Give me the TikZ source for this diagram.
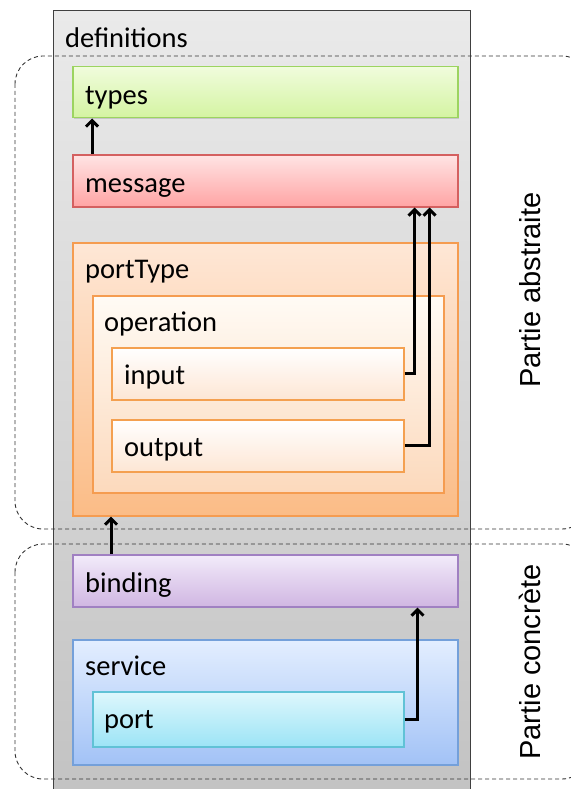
\documentclass[tikz,border=0pt]{standalone}
\usepackage{fontspec}
\setmainfont{Carlito}
\newfontfamily\sidefont{Liberation Sans}
\usetikzlibrary{positioning,arrows.meta,shadows}

\definecolor{defTop}{HTML}{EAEAEA}
\definecolor{defBot}{HTML}{C2C2C2}
\definecolor{typesTop}{HTML}{F0FCDC}
\definecolor{typesBot}{HTML}{D4F4A2}
\definecolor{typesLine}{HTML}{9CD460}
\definecolor{msgTop}{HTML}{FFE4E4}
\definecolor{msgBot}{HTML}{FFA4A4}
\definecolor{msgLine}{HTML}{D46060}
\definecolor{ptTop}{HTML}{FEE7D6}
\definecolor{ptBot}{HTML}{FBBC86}
\definecolor{ptLine}{HTML}{F59C50}
\definecolor{opTop}{HTML}{FFFBF5}
\definecolor{opBot}{HTML}{FCD9BC}
\definecolor{ioTop}{HTML}{FFFFFF}
\definecolor{ioBot}{HTML}{FDE6D4}
\definecolor{ioLine}{HTML}{F4A050}
\definecolor{bindTop}{HTML}{F2EBFA}
\definecolor{bindBot}{HTML}{D0B6E2}
\definecolor{bindLine}{HTML}{A080C2}
\definecolor{servTop}{HTML}{E3EEFF}
\definecolor{servBot}{HTML}{A2C2F6}
\definecolor{servLine}{HTML}{74A0DA}
\definecolor{portTop}{HTML}{DEF7FC}
\definecolor{portBot}{HTML}{9CE4F6}
\definecolor{portLine}{HTML}{60C2D6}

\tikzset{
    part/.style={draw,
        line width=1.5pt,
        anchor=north west,
        inner sep=0pt,
        drop shadow={shadow xshift=1.5pt, shadow yshift=-1.5pt, opacity=0.3}},
    lbl/.style={anchor=base west,
        inner sep=0pt,
        font=\fontsize{28.5}{34}\selectfont},
    side/.style={rotate=90,
        anchor=base,
        inner sep=0pt,
        font=\sidefont\fontsize{29}{34}\selectfont},
    zone/.style={draw=black!80,
        line width=0.9pt,
        dash pattern=on 4pt off 3pt,
        rounded corners=28pt},
    link/.style={line width=3pt,
        -{Straight Barb[length=6pt,width=12pt]}}
}

\begin{document}
\begin{tikzpicture}[x=1pt,y=-1pt]
\useasboundingbox (0,0) rectangle (570,789);

% Outer gray box
\node[draw=black!75,
    line width=1pt,
    anchor=north west,
    inner sep=0pt,
    minimum width=417pt,
    minimum height=800pt,
    top color=defTop,
    bottom color=defBot] (defs) at (53,10){};
\node[lbl] (defslbl) at ([shift={(12,38)}]defs.north west) {definitions};

% Dashed zones
\draw[zone] (15,56) rectangle (590,529);
\draw[zone] (15,544) rectangle (590,779);

% Abstract part
\node[part,
    draw=typesLine,
    minimum width=385pt,
    minimum height=51pt,
    top color=typesTop,
    bottom color=typesBot] (types) at (72,66){};
\node[lbl] (typeslbl) at ([shift={(13,12)}]types.west) {types};

\node[part,
    draw=msgLine,
    minimum width=385pt,
    minimum height=52pt,
    top color=msgTop,
    bottom color=msgBot] (message) at (72,154){};
\node[lbl] (messagelbl) at ([shift={(13,12)}]message.west) {message};

\node[part,
    draw=ptLine,
    minimum width=385pt,
    minimum height=273pt,
    top color=ptTop,
    bottom color=ptBot] (porttype) at (72,242){};
\node[lbl] (porttypelbl) at ([shift={(13,36)}]porttype.north west) {portType};

\node[part,
    draw=ptLine,
    minimum width=351pt,
    minimum height=197pt,
    top color=opTop,
    bottom color=opBot] (operation) at (92,295){};
\node[lbl] (operationlbl) at ([shift={(12,36)}]operation.north west) {operation};

\node[part,
    draw=ioLine,
    minimum width=292pt,
    minimum height=52pt,
    top color=ioTop,
    bottom color=ioBot] (input) at (111,347){};
\node[lbl] (inputlbl) at ([shift={(13,11)}]input.west) {input};

\node[part,
    draw=ioLine,
    minimum width=292pt,
    minimum height=52pt,
    top color=ioTop,
    bottom color=ioBot] (output) at (111,419){};
\node[lbl] (outputlbl) at ([shift={(13,11)}]output.west) {output};

% Concrete part
\node[part,
    draw=bindLine,
    minimum width=385pt,
    minimum height=52pt,
    top color=bindTop,
    bottom color=bindBot] (binding) at (72,554){};
\node[lbl] (bindinglbl) at ([shift={(13,12)}]binding.west) {binding};

\node[part,
    draw=servLine,
    minimum width=385pt,
    minimum height=125pt,
    top color=servTop,
    bottom color=servBot] (service) at (72,639){};
\node[lbl] (servicelbl) at ([shift={(13,36)}]service.north west) {service};

\node[part,
    draw=portLine,
    minimum width=311pt,
    minimum height=55pt,
    top color=portTop,
    bottom color=portBot] (port) at (92,691){};
\node[lbl] (portlbl) at ([shift={(12,9)}]port.west) {port};

% Side labels
\node[side] (abstr) at (540,290) {Partie abstraite};
\node[side] (concr) at (540,662) {Partie concrète};

% Arrows
\draw[link] ([xshift=20pt]message.north west) -- ([xshift=20pt]types.south west);
\draw[link] (input.east) -| ([xshift=-44pt]message.south east);
\draw[link] (output.east) -| ([xshift=-29pt]message.south east);
\draw[link] ([xshift=39pt]binding.north west) -- ([xshift=39pt]porttype.south west);
\draw[link] (port.east) -| ([xshift=-41pt]binding.south east);

\end{tikzpicture}
\end{document}
